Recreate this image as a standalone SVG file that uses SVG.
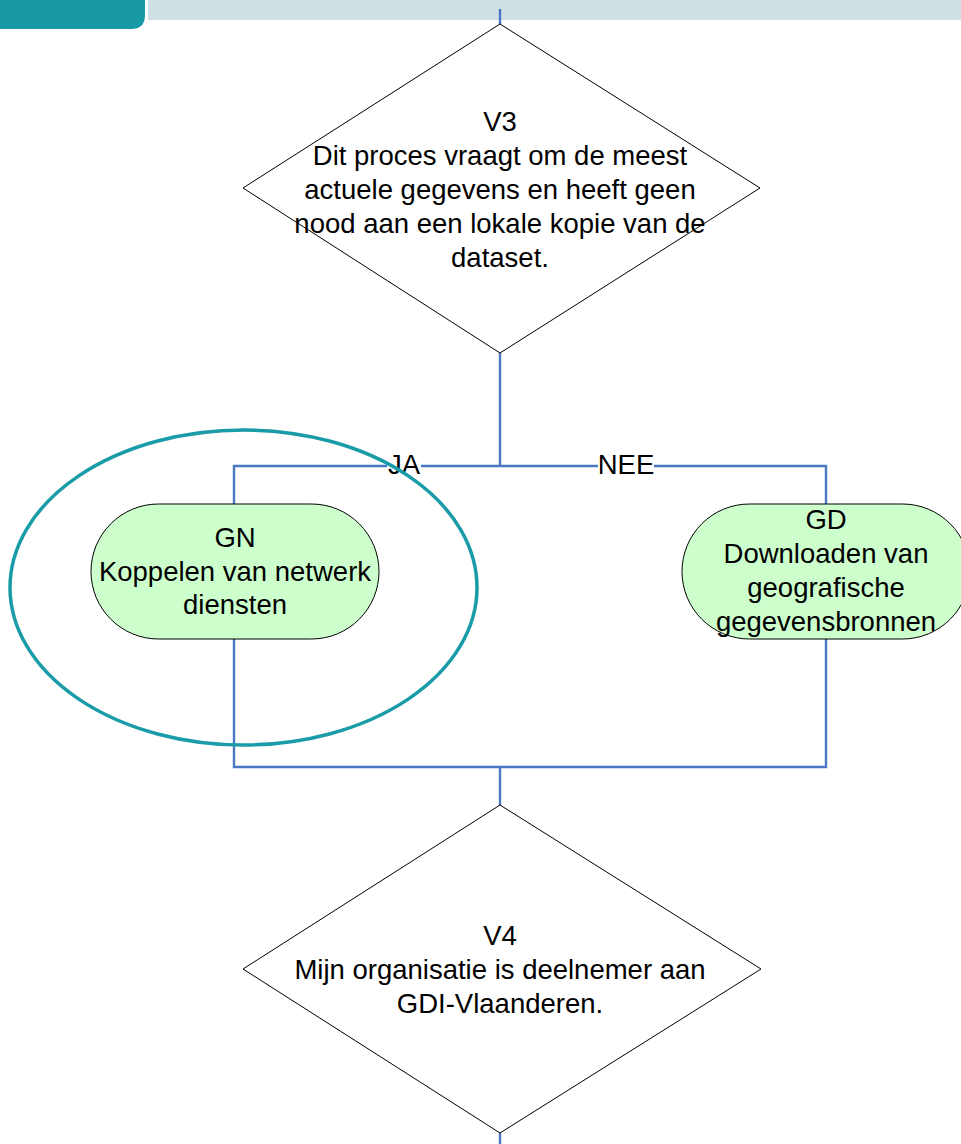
<svg xmlns="http://www.w3.org/2000/svg" width="961" height="1144" viewBox="0 0 961 1144">
<style>
text{font-family:"Liberation Sans",Arial,sans-serif;font-size:27.5px;fill:#000;text-anchor:middle}
.dia{fill:#fff;stroke:#000;stroke-width:1}
.proc{fill:#CCFFCC;stroke:#000;stroke-width:1}
.con{fill:none;stroke:#4A78C2;stroke-width:2.4}
.lbl{fill:#fff}
</style>
<g id="header">
<path d="M0 0H145V15Q145 29 131 29H0Z" fill="#1799A6"/>
<rect x="148" y="0" width="813" height="20" fill="#D0E1E5"/>
</g>
<g id="connectors">
<path class="con" d="M500 9V24"/>
<path class="con" d="M500 353V466"/>
<path class="con" d="M234 504V466H826V504"/>
<path class="con" d="M234 639V767H826V639"/>
<path class="con" d="M500 767V805"/>
<path class="con" d="M500 1133V1144"/>
<rect class="lbl" x="387" y="452" width="34" height="28"/>
<text x="404" y="474">JA</text>
<rect class="lbl" x="598" y="452" width="56" height="28"/>
<text x="626" y="474">NEE</text>
</g>
<g id="V3">
<polygon class="dia" points="500,24 760,188 500,353 243,188"/>
<text x="500" y="131">V3</text>
<text x="500" y="165">Dit proces vraagt om de meest</text>
<text x="500" y="199">actuele gegevens en heeft geen</text>
<text x="500" y="233">nood aan een lokale kopie van de</text>
<text x="500" y="267">dataset.</text>
</g>
<g id="GN">
<rect class="proc" x="91" y="504" width="288" height="135" rx="67.5" ry="67.5"/>
<text x="235" y="547">GN</text>
<text x="235" y="581">Koppelen van netwerk</text>
<text x="235" y="614">diensten</text>
</g>
<g id="GD">
<rect class="proc" x="682" y="504" width="288" height="135" rx="67.5" ry="67.5"/>
<text x="826" y="529">GD</text>
<text x="826" y="563">Downloaden van</text>
<text x="826" y="597">geografische</text>
<text x="826" y="631">gegevensbronnen</text>
</g>
<g id="V4">
<polygon class="dia" points="500,805 761,969 500,1133 243,969"/>
<text x="500" y="945">V4</text>
<text x="500" y="979">Mijn organisatie is deelnemer aan</text>
<text x="500" y="1013">GDI-Vlaanderen.</text>
</g>
<g id="highlight">
<ellipse cx="243.5" cy="587.5" rx="233.5" ry="157.5" fill="none" stroke="#1A9BA8" stroke-width="3.5"/>
</g>
</svg>
